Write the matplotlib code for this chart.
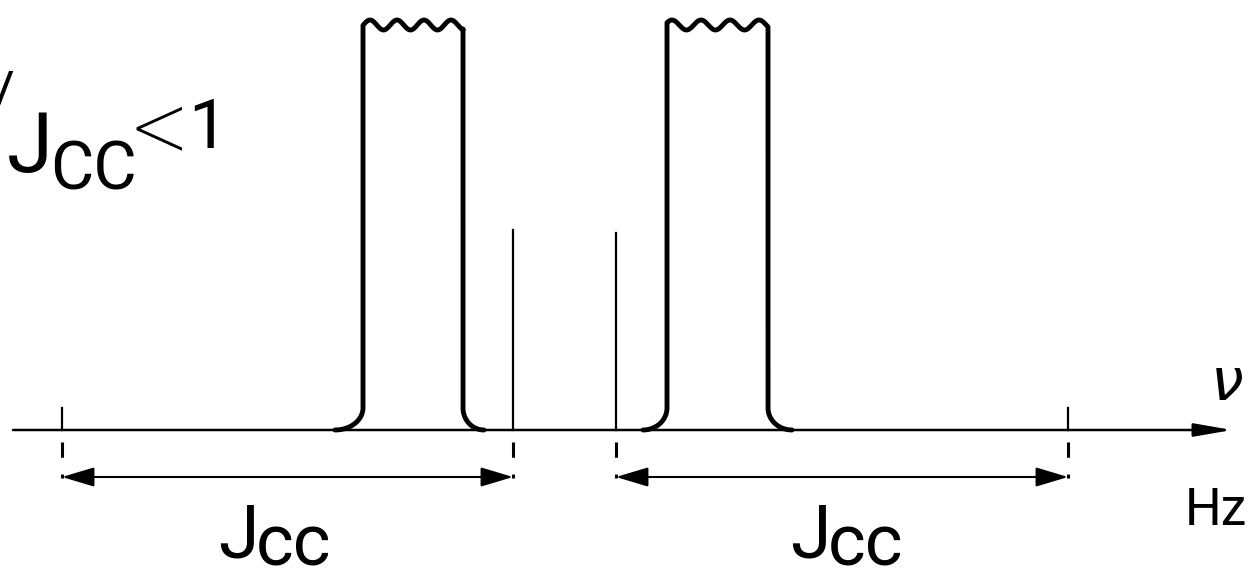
import matplotlib.pyplot as plt
from matplotlib.patches import FancyArrowPatch
import numpy as np

# schematic spectrum, x in drawing units along the frequency axis, y = intensity
axis_start = 13
axis_end = 1232

peak_left = [363, 667]      # left edge of the two broad (clipped) lines
peak_right = [463, 768]     # right edge
peak_top = [405, 405]       # height where the top is cut (wavy)
wave_period = [27, 29]
wave_phase = [370, 672]     # first crest
foot_left = [28, 24]
foot_right = [21, 24]

sat_x = [513, 616]          # small satellite lines
sat_h = [200, 197]

tick_x = [62, 1068]         # outer markers
tick_h = 22

jcc_spans = [(62, 513), (616, 1068)]
jcc_label_x = [218, 790]

fig = plt.figure(figsize=(12.53, 5.7), dpi=100)
ax = fig.add_axes([0, 0, 1, 1])
ax.set_xlim(0, 1253)
ax.set_ylim(-140, 430)
ax.axis('off')

lw_peak = 3.5
lw_thin = 1.6

# frequency axis with arrow
ax.add_patch(FancyArrowPatch((axis_start, 0), (axis_end, 0),
                             arrowstyle='-|>,head_length=1.15,head_width=0.2',
                             mutation_scale=20, lw=1.8, color='black',
                             shrinkA=0, shrinkB=0))


def foot(edge, w, h, side):
    t = np.linspace(0, np.pi / 2, 30)
    x = edge - side * w * (1 - np.sin(t))
    y = h * (1 - np.cos(t))
    return x, y


for i in range(2):
    h = 22
    xl, yl = foot(peak_left[i], foot_left[i], h, 1)
    xr, yr = foot(peak_right[i], foot_right[i], h, -1)
    xt = np.linspace(peak_left[i], peak_right[i], 200)
    yt = peak_top[i] + 5 * np.cos(2 * np.pi * (xt - wave_phase[i]) / wave_period[i])
    xs = np.concatenate([xl, [peak_left[i]], xt, [peak_right[i]], xr[::-1]])
    ys = np.concatenate([yl, [peak_top[i] - 4], yt, [peak_top[i] - 4], yr[::-1]])
    ax.plot(xs, ys, color='black', lw=lw_peak, solid_capstyle='round',
            solid_joinstyle='round')

# satellite lines
for x, h in zip(sat_x, sat_h):
    ax.plot([x, x], [0, h], color='black', lw=lw_thin)

# outer markers
for x in tick_x:
    ax.plot([x, x], [0, tick_h], color='black', lw=lw_thin)

# dashed drop lines
for x in tick_x + sat_x:
    ax.plot([x, x], [-12, -48], color='black', lw=2.2,
            linestyle=(0, (5, 5.5)))

# J_CC double arrows
for a, b in jcc_spans:
    ax.add_patch(FancyArrowPatch((a, -47), (b, -47),
                                 arrowstyle='<|-|>,head_length=1.0,head_width=0.3',
                                 mutation_scale=20, lw=1.5, color='black',
                                 shrinkA=0, shrinkB=0))

font = 'Roboto'

for x in jcc_label_x:
    ax.text(x, -128, 'J', fontsize=53, family=font, ha='left', va='baseline')
    ax.text(x + 38, -136, 'cc', fontsize=52, family=font, ha='left', va='baseline')

# top-left condition label (cut at the left edge)
ax.text(14, 319, '/', fontsize=40, family=font, ha='right', va='baseline')
ax.text(7, 258, 'J', fontsize=60, family=font, ha='left', va='baseline')
ax.text(50, 241, 'CC', fontsize=48, family=font, ha='left', va='baseline')
ax.text(132, 266, '<', fontsize=80, family=font, fontweight='light',
        ha='left', va='baseline')
ax.text(188, 282, '1', fontsize=50, family=font, ha='left', va='baseline')

ax.text(1210, 30, r'$\nu$', fontsize=42, ha='left', va='baseline')
ax.text(1185, -95, 'Hz', fontsize=37, family=font, ha='left', va='baseline')

fig.savefig('out.png', dpi=100)
